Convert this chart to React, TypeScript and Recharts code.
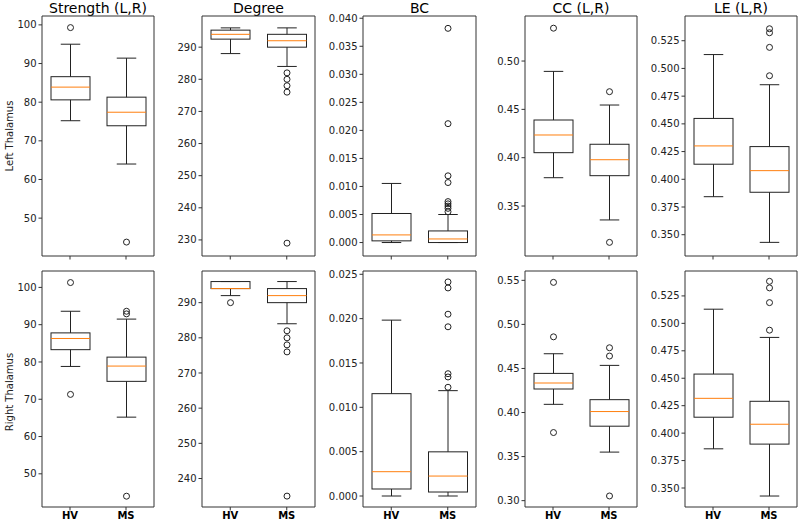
import React from "react";
import { ComposedChart, Bar, XAxis, YAxis } from "recharts";

const GROUPS = ["HV", "MS"];
const TITLES = ["Strength (L,R)", "Degree", "BC", "CC (L,R)", "LE (L,R)"];
const ROWS = ["Left Thalamus", "Right Thalamus"];

// each box: [lower whisker, Q1, median, Q3, upper whisker], HV then MS
const strengthLeft = [[75.2, 80.6, 83.9, 86.6, 95.0], [64.0, 73.9, 77.4, 81.3, 91.4]];
const strengthLeftOut = [[99.3], [43.8]];
const degreeLeft = [[288, 292.5, 294, 295.3, 296], [284, 290, 292, 294, 296]];
const degreeLeftOut = [[], [282, 280, 278, 276, 229]];
const bcLeft = [[0, 0.0003, 0.00136, 0.00518, 0.01054], [0, 0, 0.00064, 0.00207, 0.005]];
const bcLeftOut = [[], [0.0382, 0.0212, 0.0119, 0.0107, 0.0073, 0.0069, 0.0065, 0.0061, 0.0055]];
const ccLeft = [[0.3793, 0.4052, 0.4235, 0.439, 0.4893], [0.3356, 0.3814, 0.3979, 0.4139, 0.4545]];
const ccLeftOut = [[0.534], [0.4683, 0.3124]];
const leLeft = [[0.3843, 0.4136, 0.4301, 0.4549, 0.5125], [0.3431, 0.3883, 0.4078, 0.4295, 0.4853]];
const leLeftOut = [[], [0.5358, 0.5322, 0.519, 0.4934]];

const strengthRight = [[78.8, 83.3, 86.3, 87.8, 93.6], [65.2, 74.8, 78.9, 81.3, 91.5]];
const strengthRightOut = [[101.3, 71.3], [93.6, 92.9, 44.0]];
const degreeRight = [[292, 294, 294, 296, 296], [284, 290, 292, 294, 296]];
const degreeRightOut = [[290], [282, 280, 278, 276, 235]];
const bcRight = [[0, 0.00079, 0.00274, 0.01154, 0.01983], [0, 0.00045, 0.00225, 0.00498, 0.01188]];
const bcRightOut = [[], [0.02414, 0.02346, 0.0205, 0.01908, 0.01379, 0.01342, 0.01226]];
const ccRight = [[0.4093, 0.4267, 0.4335, 0.4444, 0.4667], [0.3551, 0.3845, 0.4011, 0.4146, 0.4535]];
const ccRightOut = [[0.5477, 0.4859, 0.3773], [0.4735, 0.4641, 0.3053]];
const leRight = [[0.3857, 0.4145, 0.4317, 0.4538, 0.5129], [0.3427, 0.39, 0.4081, 0.429, 0.4872]];
const leRightOut = [[], [0.5383, 0.5323, 0.5189, 0.4938]];

// tick labels
const strengthTicks = [50, 60, 70, 80, 90, 100];
const degreeLeftTicks = [230, 240, 250, 260, 270, 280, 290];
const degreeRightTicks = [240, 250, 260, 270, 280, 290];
const bcLeftTicks = [0, 0.005, 0.01, 0.015, 0.02, 0.025, 0.03, 0.035, 0.04];
const bcRightTicks = [0, 0.005, 0.01, 0.015, 0.02, 0.025];
const ccLeftTicks = [0.35, 0.4, 0.45, 0.5];
const ccRightTicks = [0.3, 0.35, 0.4, 0.45, 0.5, 0.55];
const leTicks = [0.35, 0.375, 0.4, 0.425, 0.45, 0.475, 0.5, 0.525];

const PANELS = [
  [
    { stats: strengthLeft, out: strengthLeftOut, domain: [40.2, 102.3], ticks: strengthTicks, digits: 0 },
    { stats: degreeLeft, out: degreeLeftOut, domain: [225, 299.7], ticks: degreeLeftTicks, digits: 0 },
    { stats: bcLeft, out: bcLeftOut, domain: [-0.0024, 0.0404], ticks: bcLeftTicks, digits: 3 },
    { stats: ccLeft, out: ccLeftOut, domain: [0.2983, 0.5466], ticks: ccLeftTicks, digits: 2 },
    { stats: leLeft, out: leLeftOut, domain: [0.3308, 0.5473], ticks: leTicks, digits: 3 },
  ],
  [
    { stats: strengthRight, out: strengthRightOut, domain: [41.1, 104.4], ticks: strengthTicks, digits: 0 },
    { stats: degreeRight, out: degreeRightOut, domain: [231.9, 299], ticks: degreeRightTicks, digits: 0 },
    { stats: bcRight, out: bcRightOut, domain: [-0.00124, 0.02537], ticks: bcRightTicks, digits: 3 },
    { stats: ccRight, out: ccRightOut, domain: [0.2928, 0.5606], ticks: ccRightTicks, digits: 2 },
    { stats: leRight, out: leRightOut, domain: [0.3327, 0.5477], ticks: leTicks, digits: 3 },
  ],
];

const COL_X = [42, 202, 363, 525, 685];
const COL_W = [112, 113, 113, 112, 112];
const ROW_Y = [16, 271];
const ROW_H = [240, 236];
const Y_W = 42;
const TOP_PAD = 8;
const FONT = "'DejaVu Sans', sans-serif";
const INK = "#222";
const FRAME = "#333";

// draws whiskers, box, median and fliers inside the floating bar [low, high]
function BoxShape(props: any) {
  const { x, y, width, height, payload } = props;
  const [lo, q1, med, q3, hi] = payload.stats;
  const top = Math.min(y, y + height);
  const h = Math.abs(height);
  const toY = (v: number) => top + ((hi - v) / (hi - lo)) * h;
  const cx = x + width / 2;
  const cap = width / 4;
  return (
    <g>
      <line x1={cx} x2={cx} y1={toY(hi)} y2={toY(q3)} stroke={INK} />
      <line x1={cx} x2={cx} y1={toY(q1)} y2={toY(lo)} stroke={INK} />
      <line x1={cx - cap} x2={cx + cap} y1={toY(hi)} y2={toY(hi)} stroke={INK} />
      <line x1={cx - cap} x2={cx + cap} y1={toY(lo)} y2={toY(lo)} stroke={INK} />
      <rect x={x} y={toY(q3)} width={width} height={toY(q1) - toY(q3)} fill="none" stroke={INK} />
      <line x1={x} x2={x + width} y1={toY(med)} y2={toY(med)} stroke="#ff7f0e" />
      {payload.out.map((v: number, i: number) => (
        <circle key={i} cx={cx} cy={toY(v)} r={3} fill="none" stroke={INK} />
      ))}
    </g>
  );
}

function Panel({ cfg, row, col }: any) {
  const data = GROUPS.map((g, i) => ({
    group: g,
    range: [cfg.stats[i][0], cfg.stats[i][4]],
    stats: cfg.stats[i],
    out: cfg.out[i],
  }));
  const bottomH = row === 0 ? 8 : 22;
  return (
    <div style={{ position: "absolute", left: COL_X[col] - Y_W, top: ROW_Y[row] - 1 - TOP_PAD }}>
      <ComposedChart
        width={Y_W + COL_W[col] + 1}
        height={TOP_PAD + 1 + ROW_H[row] + bottomH}
        data={data}
        margin={{ top: TOP_PAD, right: 0, bottom: 0, left: 0 }}
      >
        <XAxis
          dataKey="group"
          height={bottomH}
          axisLine={{ stroke: FRAME }}
          tickLine={{ stroke: FRAME }}
          tickSize={3.5}
          tickMargin={1}
          tickFormatter={(v: string) => (row === 0 ? "" : v)}
          tick={{ fontSize: 10, fontWeight: "bold", fill: "#000", fontFamily: FONT }}
        />
        <XAxis xAxisId="top" orientation="top" height={1} tick={false} tickLine={false} axisLine={{ stroke: FRAME }} />
        <YAxis
          type="number"
          width={Y_W}
          domain={cfg.domain}
          ticks={cfg.ticks}
          allowDataOverflow
          interval={0}
          axisLine={{ stroke: FRAME }}
          tickLine={{ stroke: FRAME }}
          tickSize={3.5}
          tickMargin={2}
          tickFormatter={(v: number) => v.toFixed(cfg.digits)}
          tick={{ fontSize: 10, fill: INK, fontFamily: FONT }}
        />
        <YAxis yAxisId="r" orientation="right" width={1} tick={false} tickLine={false} axisLine={{ stroke: FRAME }} />
        <Bar dataKey="range" barSize={39} shape={BoxShape} isAnimationActive={false} />
      </ComposedChart>
    </div>
  );
}

export default function App() {
  return (
    <div
      style={{
        position: "absolute",
        left: 0,
        top: 0,
        width: 800,
        height: 523,
        background: "#fff",
        fontFamily: FONT,
        color: "#000",
      }}
    >
      <style>{`.recharts-text { font-family: 'DejaVu Sans', sans-serif; }`}</style>
      {TITLES.map((t, c) => (
        <div
          key={t}
          style={{
            position: "absolute",
            left: COL_X[c],
            width: COL_W[c],
            top: 0,
            textAlign: "center",
            fontSize: 14,
            lineHeight: "16px",
          }}
        >
          {t}
        </div>
      ))}
      {ROWS.map((r, i) => (
        <div
          key={r}
          style={{
            position: "absolute",
            left: 9.5 - 100,
            top: (i === 0 ? 136 : 392) - 7,
            width: 200,
            height: 14,
            lineHeight: "14px",
            textAlign: "center",
            fontSize: 10,
            color: INK,
            transform: "rotate(-90deg)",
          }}
        >
          {r}
        </div>
      ))}
      {PANELS.map((rowCfg, r) =>
        rowCfg.map((cfg, c) => <Panel key={`${r}-${c}`} cfg={cfg} row={r} col={c} />)
      )}
    </div>
  );
}
